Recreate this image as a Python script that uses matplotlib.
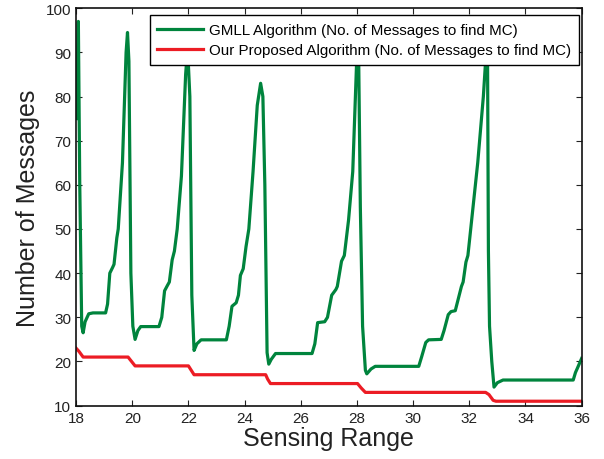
import numpy as np
import matplotlib
matplotlib.use('Agg')
import matplotlib.pyplot as plt

plt.rcParams['font.family'] = ['Liberation Sans', 'DejaVu Sans']

# GMLL algorithm curve
gmll_x = [18.00, 18.08, 18.13, 18.20, 18.25, 18.32, 18.45, 18.60, 19.05, 19.12,
          19.20, 19.30, 19.35, 19.45, 19.50, 19.65, 19.78, 19.83, 19.88, 19.95,
          20.02, 20.10, 20.20, 20.30, 20.95, 21.05, 21.15, 21.25, 21.32, 21.42,
          21.50, 21.60, 21.75, 21.90, 21.97, 22.05, 22.12, 22.20, 22.30, 22.45,
          23.35, 23.45, 23.55, 23.70, 23.78, 23.85, 23.95, 24.05, 24.15, 24.30,
          24.45, 24.57, 24.65, 24.72, 24.80, 24.86, 24.95, 25.10, 26.40, 26.50,
          26.60, 26.85, 26.95, 27.10, 27.25, 27.30, 27.45, 27.55, 27.70, 27.85,
          28.00, 28.05, 28.12, 28.20, 28.30, 28.35, 28.50, 28.65, 30.20, 30.30,
          30.45, 30.55, 31.00, 31.10, 31.25, 31.35, 31.50, 31.60, 31.72, 31.78,
          31.88, 31.95, 32.10, 32.30, 32.50, 32.60, 32.65, 32.68, 32.72, 32.80,
          32.88, 33.00, 33.20, 35.70, 35.78, 35.85, 36.00]
gmll_y = [75, 97, 60, 28, 26.5, 29, 30.8, 31, 31, 33,
          40, 41.3, 42, 48, 50, 65, 90, 94.5, 88, 40,
          28, 25, 27, 27.9, 27.9, 30, 36, 37.2, 38, 43,
          45, 50, 62, 85, 91, 80, 35, 22.5, 24, 24.9,
          24.9, 28, 32.5, 33.3, 35, 39.5, 41, 46, 50, 63,
          78, 83, 80, 60, 22, 19.4, 20.5, 21.8, 21.8, 24,
          28.8, 29, 30, 35, 36.3, 37, 42.7, 44, 52, 63,
          90, 95, 55, 28, 18, 17.2, 18.3, 18.9, 18.9, 21,
          24.3, 24.9, 25, 27, 30.6, 31.3, 31.5, 34, 37, 38,
          42.5, 44, 53, 65, 80, 90, 88, 45, 28, 20,
          14.2, 15.2, 15.8, 15.8, 17.5, 18.5, 20.7]

# proposed algorithm curve
prop_x = [18.00, 18.10, 18.25, 19.85, 19.95, 20.10, 22.00, 22.10, 22.20, 24.75,
          24.82, 24.92, 28.02, 28.15, 28.30, 32.58, 32.70, 32.85, 32.95, 36.00]
prop_y = [23, 22.3, 21, 21, 20.2, 19, 19, 18, 17, 17,
          16, 15, 15, 14, 13, 13, 12.5, 11.2, 11, 11]

fig = plt.figure(figsize=(6.04, 4.60), dpi=100)
ax = fig.add_axes([0.126, 0.116, 0.837, 0.864])

ax.plot(gmll_x, gmll_y, color='#00843d', lw=2.3,
        label='GMLL Algorithm (No. of Messages to find MC)')
ax.plot(prop_x, prop_y, color='#ec1c24', lw=2.3,
        label='Our Proposed Algorithm (No. of Messages to find MC)')

ax.set_xlim(18, 36)
ax.set_ylim(10, 100)
ax.set_xticks(np.arange(18, 37, 2))
ax.set_yticks(np.arange(10, 101, 10))
ax.tick_params(direction='in', top=True, right=True, length=4, labelsize=11,
               width=0.8, colors='#222222')
for s in ax.spines.values():
    s.set_linewidth(1.2)
    s.set_color('#111111')

ax.set_xlabel('Sensing Range', fontsize=18, color='#222222', labelpad=1)
ax.set_ylabel('Number of Messages', fontsize=18, color='#222222', labelpad=4)

leg = ax.legend(loc='upper right', bbox_to_anchor=(0.994, 0.982), borderaxespad=0,
                fontsize=10.9, fancybox=False, framealpha=1, edgecolor='black',
                handlelength=3.0, handletextpad=0.4, borderpad=0.5,
                labelspacing=0.4)
leg.get_frame().set_linewidth(1.0)

fig.savefig('out.png', dpi=100)
